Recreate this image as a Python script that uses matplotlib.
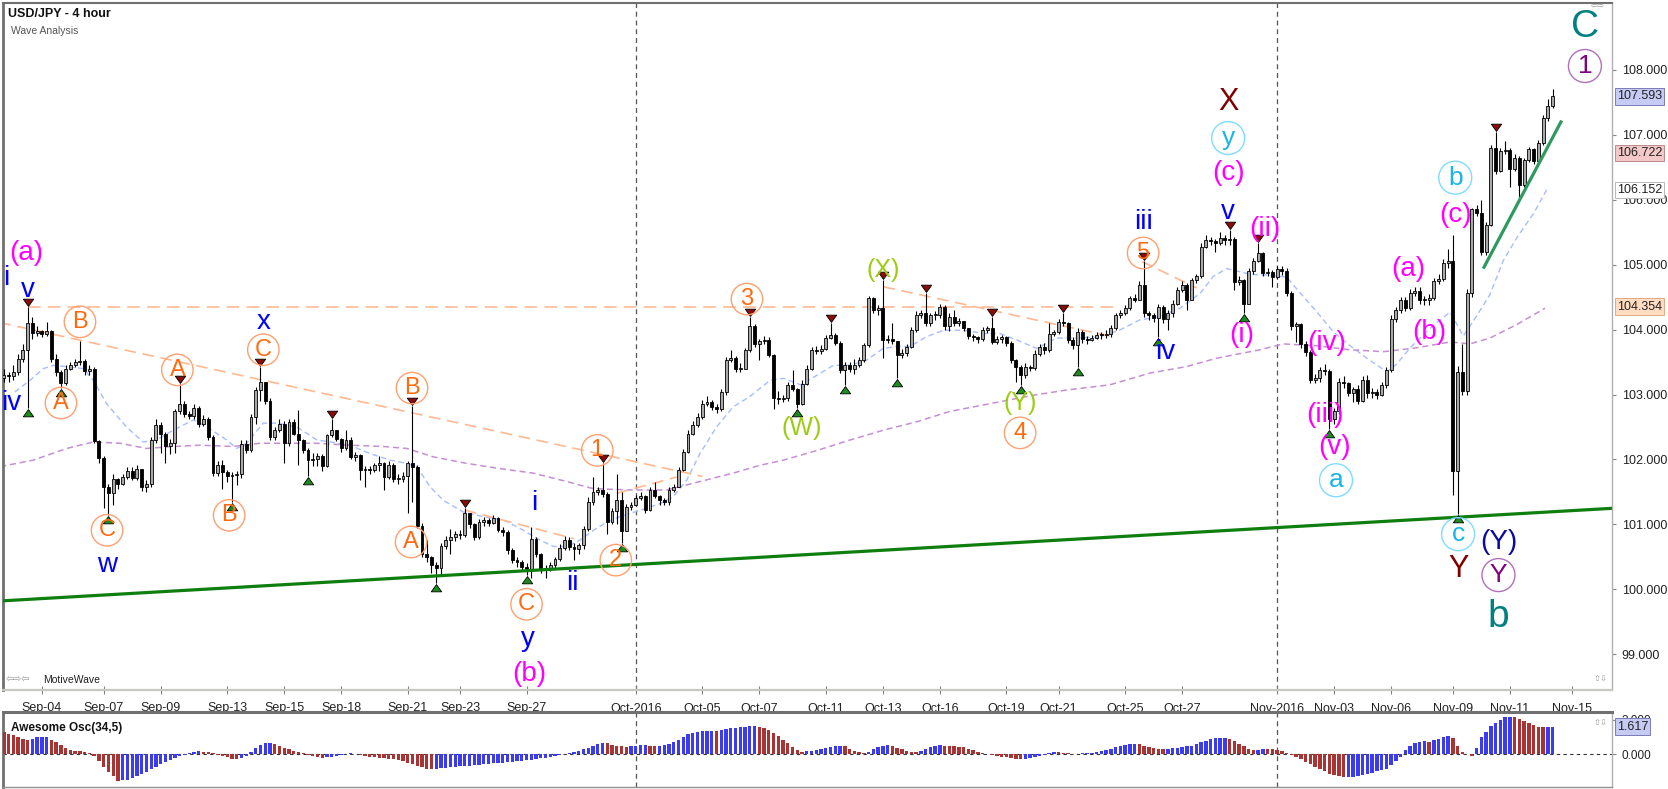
import numpy as np
import matplotlib
matplotlib.use('Agg')
import matplotlib.pyplot as plt
from matplotlib.path import Path
import matplotlib.transforms as mtransforms

plt.rcParams['font.family'] = ['Liberation Sans', 'DejaVu Sans']
NARROW = ['Liberation Sans Narrow', 'Liberation Sans', 'DejaVu Sans']

# ---------------- data ----------------
first_open = 103.25
closes = [
  103.30, 103.28, 103.35, 103.55, 103.69, 104.10, 103.95, 103.98, 103.93, 103.98,
  103.55, 103.35, 103.18, 103.40, 103.46, 103.50, 103.52, 103.36, 103.40, 102.28,
  102.02, 101.58, 101.48, 101.70, 101.62, 101.73, 101.82, 101.72, 101.85, 101.58,
  101.62, 102.30, 102.53, 102.40, 102.20, 102.25, 102.74, 102.86, 102.70, 102.67,
  102.80, 102.55, 102.63, 102.35, 101.79, 101.92, 101.80, 101.74, 101.76, 101.78,
  102.24, 102.15, 102.66, 103.07, 103.20, 102.90, 102.35, 102.45, 102.55, 102.25,
  102.58, 102.40, 102.30, 102.15, 101.99, 102.00, 102.06, 101.90, 102.37, 102.45,
  102.32, 102.18, 102.30, 102.04, 102.07, 101.84, 101.86, 101.84, 101.91, 101.94,
  101.73, 101.92, 101.70, 101.70, 101.74, 101.94, 101.88, 100.98, 100.55, 100.50,
  100.38, 100.33, 100.66, 100.76, 100.81, 100.86, 100.84, 101.17, 101.00, 100.81,
  101.04, 101.07, 101.02, 101.10, 100.91, 100.88, 100.60, 100.45, 100.42, 100.35,
  100.32, 100.78, 100.55, 100.32, 100.33, 100.38, 100.46, 100.64, 100.76, 100.65,
  100.62, 100.68, 100.93, 101.35, 101.50, 101.53, 101.47, 101.04, 101.20, 101.37,
  100.90, 101.27, 101.30, 101.40, 101.43, 101.22, 101.53, 101.43, 101.37, 101.34,
  101.53, 101.58, 101.84, 102.12, 102.40, 102.53, 102.66, 102.86, 102.89, 102.81,
  102.78, 103.04, 103.53, 103.57, 103.40, 103.40, 103.69, 104.05, 103.78, 103.82,
  103.84, 103.61, 102.95, 102.93, 102.95, 103.15, 103.08, 102.86, 103.17, 103.40,
  103.69, 103.67, 103.70, 103.87, 103.92, 103.80, 103.38, 103.45, 103.40, 103.45,
  103.53, 103.76, 104.48, 104.30, 104.33, 103.84, 103.86, 103.82, 103.61, 103.64,
  103.74, 103.99, 104.22, 104.25, 104.10, 104.22, 104.22, 104.35, 104.05, 104.20,
  104.10, 104.13, 104.03, 103.90, 103.88, 103.85, 103.99, 104.02, 103.81, 103.85,
  103.88, 103.80, 103.53, 103.43, 103.30, 103.43, 103.41, 103.63, 103.74, 103.68,
  103.94, 103.96, 104.12, 104.10, 103.84, 103.76, 103.97, 103.85, 103.84, 103.87,
  103.92, 103.91, 103.94, 104.02, 104.22, 104.25, 104.33, 104.48, 104.46, 104.69,
  104.25, 104.22, 104.18, 104.35, 104.17, 104.25, 104.40, 104.61, 104.69, 104.46,
  104.76, 104.82, 105.28, 105.38, 105.36, 105.34, 105.41, 105.38, 105.40, 104.74,
  104.76, 104.40, 104.90, 105.06, 105.18, 104.87, 104.88, 104.81, 104.93, 104.90,
  104.57, 104.05, 104.08, 103.78, 103.66, 103.23, 103.25, 103.38, 103.37, 102.62,
  102.74, 103.20, 103.18, 103.02, 103.08, 102.90, 103.23, 103.02, 103.04, 103.00,
  103.14, 103.38, 104.17, 104.30, 104.45, 104.33, 104.57, 104.60, 104.45, 104.45,
  104.48, 104.75, 104.78, 105.03, 105.06, 101.83, 103.35, 103.05, 104.57, 105.85,
  105.80, 105.20, 105.61, 106.79, 106.45, 106.75, 106.77, 106.48, 106.65, 106.23,
  106.61, 106.78, 106.60, 106.87, 107.26, 107.45, 107.593]
highs = [
  103.40, 103.35, 103.45, 103.62, 103.78, 104.35, 104.20, 104.05, 104.00, 104.12,
  104.00, 103.62, 103.38, 103.45, 103.50, 103.55, 103.82, 103.55, 103.45, 103.42,
  102.30, 102.05, 101.62, 101.78, 101.72, 101.78, 101.88, 101.88, 101.92, 101.85,
  101.68, 102.35, 102.62, 102.58, 102.42, 102.32, 102.78, 103.17, 102.90, 102.75,
  102.85, 102.82, 102.68, 102.66, 102.38, 101.97, 101.99, 101.84, 101.80, 101.82,
  102.30, 102.30, 102.70, 103.12, 103.42, 103.15, 102.95, 102.50, 102.62, 102.60,
  102.62, 102.62, 102.76, 102.32, 102.18, 102.10, 102.10, 102.08, 102.40, 102.62,
  102.45, 102.33, 102.45, 102.35, 102.12, 102.08, 101.90, 101.90, 101.95, 102.06,
  101.96, 101.98, 101.95, 101.78, 101.80, 101.98, 102.82, 101.92, 101.02, 100.76,
  100.52, 100.42, 100.72, 100.82, 100.93, 100.90, 100.92, 101.25, 101.18, 101.02,
  101.08, 101.12, 101.10, 101.14, 101.12, 100.96, 100.92, 100.63, 100.50, 100.45,
  100.40, 100.96, 100.80, 100.56, 100.38, 100.42, 100.50, 100.70, 100.82, 100.80,
  100.72, 100.72, 100.98, 101.42, 101.73, 101.58, 101.95, 101.50, 101.25, 101.78,
  101.50, 101.32, 101.35, 101.45, 101.50, 101.45, 101.58, 101.66, 101.45, 101.40,
  101.58, 101.62, 101.88, 102.16, 102.45, 102.60, 102.72, 102.92, 102.98, 102.92,
  102.85, 103.08, 103.58, 103.69, 103.60, 103.48, 103.72, 104.20, 104.08, 103.86,
  103.90, 103.89, 103.62, 103.05, 103.00, 103.20, 103.38, 103.10, 103.22, 103.45,
  103.74, 103.75, 103.76, 103.92, 104.10, 103.95, 103.82, 103.50, 103.50, 103.55,
  103.58, 103.80, 104.52, 104.50, 104.38, 104.76, 103.92, 104.10, 103.82, 103.70,
  103.78, 104.04, 104.28, 104.30, 104.56, 104.26, 104.28, 104.40, 104.38, 104.25,
  104.30, 104.18, 104.14, 104.02, 103.93, 103.90, 104.04, 104.06, 104.20, 103.90,
  103.92, 103.90, 103.82, 103.55, 103.46, 103.48, 103.46, 103.68, 103.78, 103.80,
  104.10, 104.00, 104.16, 104.25, 104.12, 103.88, 104.02, 104.00, 103.90, 103.92,
  103.96, 103.96, 104.00, 104.07, 104.26, 104.30, 104.38, 104.52, 104.55, 104.75,
  105.05, 104.28, 104.25, 104.40, 104.38, 104.30, 104.45, 104.66, 104.75, 104.72,
  104.80, 104.86, 105.33, 105.45, 105.42, 105.40, 105.50, 105.45, 105.53, 105.42,
  104.82, 104.78, 104.95, 105.10, 105.33, 105.20, 104.95, 104.92, 104.98, 104.98,
  104.95, 104.60, 104.12, 104.10, 103.82, 103.68, 103.32, 103.42, 103.47, 103.40,
  102.80, 103.25, 103.28, 103.20, 103.12, 103.15, 103.28, 103.30, 103.10, 103.08,
  103.20, 103.42, 104.22, 104.35, 104.50, 104.50, 104.62, 104.66, 104.65, 104.52,
  104.55, 104.80, 104.85, 105.08, 105.24, 105.45, 103.44, 103.78, 104.62, 105.88,
  105.92, 106.00, 105.66, 106.85, 107.05, 106.80, 106.90, 106.80, 106.70, 106.68,
  106.65, 106.82, 106.80, 106.92, 107.30, 107.55, 107.70]
lows = [
  103.20, 103.20, 103.22, 103.30, 103.50, 102.80, 103.85, 103.90, 103.88, 103.90,
  103.50, 103.28, 103.10, 103.15, 103.38, 103.42, 103.45, 103.30, 103.30, 102.25,
  101.95, 101.25, 101.15, 101.30, 101.55, 101.60, 101.70, 101.68, 101.68, 101.52,
  101.50, 101.58, 102.25, 102.10, 101.95, 102.08, 102.10, 102.70, 102.65, 102.62,
  102.62, 102.50, 102.52, 102.30, 101.74, 101.75, 101.55, 101.65, 101.35, 101.60,
  101.72, 102.10, 102.12, 102.55, 102.90, 102.85, 102.30, 102.30, 102.42, 101.95,
  102.20, 102.38, 101.92, 102.10, 101.74, 101.90, 101.90, 101.82, 101.88, 102.35,
  102.28, 102.12, 102.15, 102.00, 101.98, 101.68, 101.58, 101.78, 101.80, 101.82,
  101.53, 101.70, 101.65, 101.62, 101.65, 101.17, 101.35, 100.95, 100.50, 100.42,
  100.25, 100.10, 100.22, 100.62, 100.55, 100.74, 100.78, 100.80, 100.95, 100.76,
  100.78, 100.98, 100.98, 101.00, 100.88, 100.82, 100.55, 100.40, 100.35, 100.30,
  100.22, 100.17, 100.50, 100.25, 100.18, 100.28, 100.33, 100.44, 100.60, 100.60,
  100.45, 100.55, 100.62, 100.90, 101.30, 101.45, 101.42, 100.86, 101.00, 101.00,
  100.72, 100.90, 101.22, 101.28, 101.38, 101.18, 101.20, 101.40, 101.30, 101.30,
  101.30, 101.50, 101.58, 101.82, 102.10, 102.38, 102.50, 102.62, 102.82, 102.76,
  102.72, 102.74, 103.00, 103.50, 103.35, 103.35, 103.40, 103.66, 103.74, 103.53,
  103.78, 103.58, 102.78, 102.85, 102.88, 102.90, 103.05, 102.79, 102.84, 103.15,
  103.38, 103.62, 103.62, 103.68, 103.85, 103.76, 103.33, 103.15, 103.35, 103.32,
  103.42, 103.50, 103.74, 104.25, 104.22, 103.56, 103.80, 103.78, 103.25, 103.56,
  103.60, 103.72, 103.96, 104.18, 104.05, 104.05, 104.15, 104.18, 104.00, 103.98,
  104.05, 104.05, 103.98, 103.85, 103.82, 103.80, 103.82, 103.95, 103.78, 103.78,
  103.80, 103.75, 103.48, 103.20, 103.15, 103.25, 103.36, 103.38, 103.60, 103.62,
  103.65, 103.90, 103.94, 104.05, 103.80, 103.70, 103.43, 103.80, 103.78, 103.82,
  103.85, 103.86, 103.87, 103.88, 104.00, 104.18, 104.22, 104.30, 104.42, 104.45,
  104.20, 104.15, 104.12, 103.89, 104.10, 104.00, 104.20, 104.38, 104.58, 104.30,
  104.45, 104.72, 104.80, 105.25, 105.30, 105.20, 105.30, 105.30, 105.30, 104.61,
  104.68, 104.25, 104.70, 104.85, 105.04, 104.82, 104.82, 104.66, 104.78, 104.84,
  104.52, 104.00, 103.81, 103.72, 103.60, 103.18, 103.18, 103.20, 103.30, 102.47,
  102.55, 102.70, 103.10, 102.98, 102.88, 102.85, 102.88, 102.95, 102.95, 102.93,
  102.98, 103.10, 103.35, 104.12, 104.25, 104.28, 104.30, 104.52, 104.40, 104.38,
  104.38, 104.45, 104.70, 104.75, 104.95, 101.46, 101.16, 102.99, 103.00, 104.50,
  105.75, 105.15, 105.15, 105.60, 106.40, 106.42, 106.70, 106.20, 106.45, 106.05,
  106.20, 106.58, 106.55, 106.58, 106.85, 107.22, 107.42]

# Awesome Oscillator (34,5) histogram
ao_vals = [
  1.27, 1.20, 1.10, 1.00, 0.90, 0.84, 0.90, 0.98, 1.00, 1.02,
  0.84, 0.70, 0.51, 0.35, 0.22, 0.20, 0.16, 0.12, 0.04, -0.10,
  -0.40, -0.75, -1.05, -1.30, -1.60, -1.55, -1.50, -1.40, -1.30, -1.20,
  -1.05, -0.90, -0.75, -0.60, -0.45, -0.35, -0.25, -0.12, -0.03, 0.06,
  0.12, 0.16, 0.14, 0.10, 0.05, -0.05, -0.12, -0.20, -0.28, -0.32,
  -0.25, -0.12, 0.10, 0.35, 0.55, 0.65, 0.66, 0.60, 0.50, 0.38,
  0.28, 0.18, 0.10, 0.05, -0.05, -0.12, -0.20, -0.25, -0.20, -0.15,
  -0.10, -0.05, -0.02, 0.03, 0.02, -0.05, -0.10, -0.15, -0.20, -0.22,
  -0.25, -0.28, -0.30, -0.35, -0.42, -0.50, -0.58, -0.68, -0.78, -0.86,
  -0.90, -0.88, -0.85, -0.82, -0.78, -0.75, -0.72, -0.70, -0.68, -0.65,
  -0.62, -0.60, -0.57, -0.55, -0.52, -0.50, -0.48, -0.45, -0.43, -0.40,
  -0.37, -0.33, -0.30, -0.26, -0.22, -0.18, -0.12, -0.06, -0.01, 0.05,
  0.10, 0.18, 0.28, 0.38, 0.50, 0.60, 0.64, 0.62, 0.55, 0.50,
  0.45, 0.40, 0.45, 0.50, 0.52, 0.53, 0.50, 0.48, 0.50, 0.55,
  0.60, 0.72, 0.85, 1.00, 1.15, 1.25, 1.32, 1.35, 1.36, 1.38,
  1.36, 1.40, 1.47, 1.52, 1.55, 1.57, 1.60, 1.63, 1.64, 1.60,
  1.52, 1.40, 1.25, 1.05, 0.85, 0.65, 0.42, 0.25, 0.12, 0.15,
  0.18, 0.22, 0.28, 0.35, 0.42, 0.48, 0.50, 0.45, 0.32, 0.20,
  0.10, 0.05, 0.12, 0.28, 0.40, 0.48, 0.52, 0.50, 0.38, 0.28,
  0.20, 0.12, 0.10, 0.15, 0.28, 0.42, 0.50, 0.52, 0.50, 0.48,
  0.46, 0.44, 0.40, 0.32, 0.22, 0.12, 0.04, -0.02, -0.05, -0.10,
  -0.15, -0.20, -0.25, -0.30, -0.32, -0.30, -0.25, -0.18, -0.12, -0.05,
  0.05, 0.10, 0.09, 0.08, 0.06, 0.02, -0.01, 0.03, 0.05, 0.08,
  0.12, 0.18, 0.25, 0.32, 0.40, 0.47, 0.53, 0.58, 0.60, 0.57,
  0.50, 0.42, 0.38, 0.32, 0.28, 0.30, 0.33, 0.36, 0.40, 0.45,
  0.50, 0.58, 0.68, 0.78, 0.86, 0.92, 0.95, 0.96, 0.90, 0.78,
  0.60, 0.45, 0.30, 0.22, 0.26, 0.32, 0.30, 0.28, 0.22, 0.15,
  0.08, -0.05, -0.15, -0.30, -0.45, -0.60, -0.75, -0.90, -1.02, -1.15,
  -1.25, -1.32, -1.38, -1.36, -1.33, -1.30, -1.25, -1.18, -1.10, -1.02,
  -0.94, -0.86, -0.65, -0.40, -0.18, 0.24, 0.47, 0.67, 0.72, 0.74,
  0.73, 0.82, 0.86, 0.98, 1.08, 0.92, 0.47, 0.13, -0.02, -0.10,
  0.33, 0.98, 1.27, 1.65, 1.84, 2.00, 2.16, 2.20, 2.16, 2.08,
  1.96, 1.80, 1.71, 1.61, 1.58, 1.60, 1.617]

# moving averages (bar, value)
ma_fast_bars = [2.3, 5.5, 8.3, 10.4, 13.2, 16.7, 18.8, 21.6, 25.8, 29.3, 32.1, 35.6, 39.9, 42.7, 46.9, 49, 51.1,
                54.6, 57.4, 61.7, 65.9, 68.7, 72.8, 77.1, 81.3, 84.8, 86.9, 89.7, 92.5, 96.7, 100.9, 105.1,
                108.6, 112.8, 115.7, 118.5, 121.3, 124.1, 127, 129.7, 134, 138.1, 140.9, 143.7, 146.5, 150,
                153.5, 157, 161.3, 164.1, 167.7, 171.2, 174.6, 178.1, 181.6, 185.1, 187.9, 190.7, 194.2,
                197.8, 202, 206.2, 209.7, 213.2, 217.4, 221.6, 225.8, 230.7, 234.8, 239.1, 243.3, 247.6,
                251.8, 254.6, 257.4, 260.2, 262.5, 265.8, 270, 272.8, 276.4, 279.9, 283.4, 286.9, 291.1,
                293.2, 296, 300.2, 304.4, 307.2, 310, 312.8, 315.6, 318.5, 322, 324.8]
ma_fast_vals = [103.04, 103.22, 103.40, 103.45, 103.43, 103.40, 103.22, 102.86, 102.50, 102.27, 102.30, 102.45,
                102.61, 102.50, 102.30, 102.17, 102.25, 102.56, 102.56, 102.50, 102.30, 102.27, 102.22, 102.09,
                101.99, 101.94, 101.89, 101.58, 101.37, 101.19, 101.12, 101.07, 100.94, 100.76, 100.66, 100.66,
                100.76, 100.91, 101.04, 101.12, 101.22, 101.32, 101.43, 101.68, 102.09, 102.50, 102.81, 102.97,
                103.22, 103.25, 103.15, 103.30, 103.45, 103.45, 103.53, 103.71, 103.74, 103.74, 103.89, 103.99,
                103.99, 103.94, 103.94, 103.84, 103.71, 103.87, 103.87, 103.89, 103.99, 104.15, 104.20, 104.33,
                104.56, 104.82, 104.94, 104.89, 104.85, 104.84, 104.81, 104.57, 104.27, 103.96, 103.75, 103.56,
                103.35, 103.47, 103.72, 104.02, 104.27, 103.90, 104.21, 104.54, 105.06, 105.42, 105.79, 106.16]
ma_slow_bars = [-0.8, 6.2, 13.2, 18.8, 24.4, 30, 35.6, 41.3, 48.3, 53.9, 58.8, 65.8, 72.8, 79.9, 84.8, 90.4,
                97.4, 104.4, 111.4, 118.5, 124.1, 132.5, 139.5, 146.5, 153.5, 159.1, 164.1, 171.2, 178.1,
                185.1, 192.1, 199.1, 206.2, 211.8, 216.7, 223.7, 232.8, 241.2, 248.9, 255.3, 264.4, 269.3,
                276.4, 283.4, 290.4, 297.4, 304.4, 308.6, 312.8, 318.5, 324.4]
ma_slow_vals = [101.89, 101.99, 102.17, 102.27, 102.25, 102.17, 102.20, 102.22, 102.20, 102.25, 102.25, 102.25,
                102.22, 102.20, 102.17, 102.04, 101.94, 101.86, 101.79, 101.66, 101.55, 101.53, 101.53, 101.66,
                101.79, 101.91, 101.99, 102.14, 102.30, 102.45, 102.58, 102.74, 102.84, 102.92, 102.99, 103.07,
                103.15, 103.33, 103.43, 103.56, 103.69, 103.78, 103.75, 103.69, 103.66, 103.72, 103.81, 103.78,
                103.87, 104.08, 104.33]

# date axis
tick_bars = [8, 21, 33, 47, 59, 71, 85, 96, 110, 133, 147, 159, 173, 185, 197, 211, 222, 236, 248, 268,
             280, 292, 305, 317, 330]
tick_labels = ['Sep-04', 'Sep-07', 'Sep-09', 'Sep-13', 'Sep-15', 'Sep-18', 'Sep-21', 'Sep-23', 'Sep-27',
               'Oct-2016', 'Oct-05', 'Oct-07', 'Oct-11', 'Oct-13', 'Oct-16', 'Oct-19', 'Oct-21', 'Oct-25',
               'Oct-27', 'Nov-2016', 'Nov-03', 'Nov-06', 'Nov-09', 'Nov-11', 'Nov-15']
month_bars = [133, 268]

# pivots marked with triangles
swing_high_bars = [5, 37, 54, 69, 86, 97, 126, 157, 174, 185, 194, 208, 223, 240, 258, 264, 314]
swing_low_bars = [5, 12, 22, 48, 64, 91, 110, 130, 167, 177, 188, 214, 226, 243, 261, 279, 306]

# drawn lines (bar, price)
support_x, support_y = [-1, 339], [99.82, 101.25]
short_trend_x, short_trend_y = [311.4, 327.9], [104.94, 107.22]
orange_hline_x, orange_hline_y = [5, 235], [104.35, 104.35]
orange_lines = [([-1, 147], [104.11, 101.74]),
                ([97, 120], [101.22, 100.78]),
                ([129, 141.6], [101.48, 101.73]),
                ([185.1, 233.5], [104.66, 103.89]),
                ([239.5, 251.1], [105.05, 104.64])]

# wave labels (text, bar, price)
lab_magenta = [('(a)', 4.8, 105.18), ('(b)', 110.5, 98.69), ('(c)', 257.7, 106.41), ('(i)', 260.6, 103.92),
               ('(ii)', 265.5, 105.55), ('(iv)', 278.5, 103.79), ('(iii)', 278.1, 102.68), ('(v)', 280.2, 102.19),
               ('(a)', 295.6, 104.93), ('(b)', 300.0, 103.96), ('(c)', 305.5, 105.77)]
lab_blue = [('i', 0.4, 104.80), ('v', 5.1, 104.61), ('iv', 1.6, 102.87), ('w', 21.8, 100.37), ('x', 54.6, 104.12),
            ('i', 111.6, 101.33), ('ii', 119.6, 100.10), ('y', 110.3, 99.23), ('iii', 239.8, 105.66),
            ('iv', 244.4, 103.65), ('v', 257.7, 105.81)]
lab_orange = [('B', 16, 104.12), ('A', 12, 102.87), ('C', 21.7, 100.91), ('A', 36.5, 103.38), ('B', 47.4, 101.14),
              ('C', 54.6, 103.69), ('B', 85.9, 103.10), ('A', 85.7, 100.73), ('C', 110, 99.77), ('1', 124.9, 102.14),
              ('2', 128.8, 100.45), ('3', 156.4, 104.47), ('4', 213.9, 102.41), ('5', 239.8, 105.18)]
lab_green = [('(W)', 168, 102.48), ('(X)', 185, 104.92), ('(Y)', 213.9, 102.87)]
lab_cyan = [('y', 257.7, 106.95), ('a', 280.4, 101.68), ('b', 305.5, 106.34), ('c', 306.1, 100.85)]
lab_darkred = [('X', 257.7, 107.51), ('Y', 306.1, 100.31)]
lab_navy = [('(Y)', 314.7, 100.73)]
lab_purple = [('Y', 314.6, 100.22), ('1', 332.8, 108.06)]
lab_teal = [('b', 314.6, 99.57), ('C', 332.8, 108.66)]

price_tags = [(107.593, '#c6cbf3', '#7a7ab8'), (106.722, '#f3c8c8', '#c08a8a'),
              (106.152, '#ffffff', '#b8b8b8'), (104.354, '#ffdcc2', '#e0aa86')]
ao_tag = (1.617, '#c6cbf3', '#7a7ab8')

# ---------------- figure ----------------
W, H = 1668, 789
fig = plt.figure(figsize=(W / 100, H / 100), dpi=100)


def fx(px):
    return px / W


def fy(py):
    return 1 - py / H


ax = fig.add_axes([fx(3), fy(690), fx(1612) - fx(3), fy(3) - fy(690)])
ax2 = fig.add_axes([fx(3), fy(787), fx(1612) - fx(3), fy(712) - fy(787)], sharex=ax)

n = min(len(closes), len(highs), len(lows))
x = np.arange(n)
c = np.array(closes[:n])
o = np.array([first_open] + closes[:n - 1])
h = np.maximum(np.array(highs[:n]), np.maximum(o, c))
l = np.minimum(np.array(lows[:n]), np.minimum(o, c))
up = c >= o
body_lo = np.minimum(o, c)
body_h = np.maximum(np.abs(c - o), 0.015)

ax.vlines(x, l, h, color='black', lw=0.8, zorder=3)
ax.bar(x[up], body_h[up], bottom=body_lo[up], width=0.62, color='#a8a8a8', edgecolor='black', lw=0.6, zorder=4)
ax.bar(x[~up], body_h[~up], bottom=body_lo[~up], width=0.62, color='black', edgecolor='black', lw=0.6, zorder=4)

ax.plot(ma_fast_bars, ma_fast_vals, color='#a7bdff', lw=1.0, dashes=(4, 2.5), zorder=2)
ax.plot(ma_slow_bars, ma_slow_vals, color='#c68fd4', lw=1.1, dashes=(4, 2.5), zorder=2)

ax.plot(orange_hline_x, orange_hline_y, color='#ffc09c', lw=1.3, dashes=(7, 4), zorder=2)
for lx, ly in orange_lines:
    ax.plot(lx, ly, color='#ffb890', lw=1.2, dashes=(7, 4), zorder=2)
ax.plot(support_x, support_y, color='#0e7f0e', lw=2.3, zorder=5, solid_capstyle='butt')
ax.plot(short_trend_x, short_trend_y, color='#2f9a5f', lw=2.3, zorder=5, solid_capstyle='butt')

for b in month_bars:
    ax.axvline(b, color='#555555', lw=0.9, dashes=(4, 3), zorder=1)
    ax2.axvline(b, color='#555555', lw=0.9, dashes=(4, 3), zorder=1)

down_tri = Path([(-1, 1.6), (1, 1.6), (0, 0.2), (-1, 1.6)])
up_tri = Path([(-1, -1.6), (1, -1.6), (0, -0.2), (-1, -1.6)])
ax.plot(swing_high_bars, h[swing_high_bars], ls='none', marker=down_tri, ms=12, mfc='#8b0a0a', mec='black',
        mew=0.6, zorder=6)
ax.plot(swing_low_bars, l[swing_low_bars], ls='none', marker=up_tri, ms=12, mfc='#1c8c1c', mec='black',
        mew=0.6, zorder=6)


def put_labels(items, color, size, ring=None, pad=0.06):
    for txt, xb, yp in items:
        kw = {}
        if ring:
            kw['bbox'] = dict(boxstyle='circle,pad=%s' % pad, fc='none', ec=ring, lw=1.0)
        ax.text(xb, yp, txt, color=color, fontsize=size, ha='center', va='center', zorder=7, **kw)


put_labels(lab_magenta, '#ff00ff', 20)
put_labels(lab_blue, '#0000ff', 20)
put_labels(lab_orange, '#ff6a10', 17, ring='#ffa070', pad=0.2)
put_labels(lab_green, '#9ccc10', 18)
put_labels(lab_cyan, '#1ab4e8', 19, ring='#7fdcff', pad=0.17)
put_labels(lab_darkred, '#800000', 22)
put_labels(lab_navy, '#0a0aa0', 20)
put_labels(lab_purple, '#800080', 19, ring='#b070b8', pad=0.17)
put_labels(lab_teal, '#008080', 28)

ax.set_xlim(-0.2, 338.5)
ax.set_ylim(98.45, 109.03)
ax.yaxis.tick_right()
ax.set_yticks(range(99, 109))
ax.set_yticklabels(['%.3f' % v for v in range(99, 109)])
ax.tick_params(axis='y', direction='out', length=3, color='#888888', labelsize=9, labelcolor='#222222', pad=4)
ax.set_xticks(tick_bars)
ax.set_xticklabels(tick_labels)
ax.tick_params(axis='x', direction='inout', length=6, color='#808080', labelsize=9, labelcolor='#222222', pad=6)
for t in ax.get_xticklabels() + ax.get_yticklabels():
    t.set_family(NARROW)
for side, col, lw in [('left', '#707070', 2.0), ('top', '#707070', 1.5), ('right', '#b0b0b0', 1.0),
                      ('bottom', '#c8c8c0', 1.6)]:
    ax.spines[side].set_color(col)
    ax.spines[side].set_linewidth(lw)

tr = mtransforms.blended_transform_factory(ax.transAxes, ax.transData)
for val, fc, ec in price_tags:
    ax.text(1.003, val, '%.3f' % val, transform=tr, fontsize=9, family=NARROW, color='#222222',
            ha='left', va='center', zorder=8, clip_on=False,
            bbox=dict(boxstyle='square,pad=0.18', fc=fc, ec=ec, lw=0.7))

# oscillator
ao = np.array(ao_vals[:n])
rising = np.concatenate([[False], ao[1:] >= ao[:-1]])
ax2.bar(x[:len(ao)], ao, width=0.72, color=np.where(rising, '#3b3bf2', '#a83434'), lw=0, zorder=3)
ax2.axhline(0, color='#333333', lw=0.8, dashes=(3, 3), zorder=2)
ax2.set_ylim(-1.94, 2.47)
ax2.yaxis.tick_right()
ax2.set_yticks([0, 2])
ax2.set_yticklabels(['0.000', '2.000'])
ax2.tick_params(axis='y', direction='out', length=3, color='#888888', labelsize=8.5, labelcolor='#222222', pad=4)
ax2.tick_params(axis='x', length=0, labelbottom=False)
for t in ax2.get_yticklabels():
    t.set_family(NARROW)
for side, col, lw in [('left', '#707070', 2.0), ('top', '#707070', 2.2), ('right', '#b0b0b0', 1.0),
                      ('bottom', '#909090', 1.0)]:
    ax2.spines[side].set_color(col)
    ax2.spines[side].set_linewidth(lw)
tr2 = mtransforms.blended_transform_factory(ax2.transAxes, ax2.transData)
ax2.text(1.003, ao_tag[0], '%.3f' % ao_tag[0], transform=tr2, fontsize=9, family=NARROW, color='#222222',
         ha='left', va='center', zorder=8, clip_on=False,
         bbox=dict(boxstyle='square,pad=0.18', fc=ao_tag[1], ec=ao_tag[2], lw=0.7))
ax2.text(0.005, 0.78, 'Awesome Osc(34,5)', transform=ax2.transAxes, fontsize=8.5, fontweight='bold',
         color='#111111', ha='left', va='center')

# header and small texts
fig.text(fx(8), fy(14), 'USD/JPY - 4 hour', fontsize=9, fontweight='bold', color='#111111', va='center')
fig.text(fx(11), fy(31), 'Wave Analysis', fontsize=7.5, color='#555555', va='center')
fig.text(fx(6), fy(680), '\u21e6\u21e8\u21e6', fontsize=7, color='#999999', va='center', family='DejaVu Sans')
fig.text(fx(43), fy(680), 'MotiveWave', fontsize=7.5, color='#222222', va='center')
fig.text(fx(1605), fy(6), '\u21e6\u21e8', fontsize=6, color='#999999', va='center', ha='right',
         family='DejaVu Sans')
fig.text(fx(1608), fy(678), '\u21e7\u21e9', fontsize=6, color='#999999', va='center', ha='right',
         family='DejaVu Sans')
fig.text(fx(1608), fy(722), '\u21e7\u21e9', fontsize=6, color='#999999', va='center', ha='right',
         family='DejaVu Sans')

fig.savefig('out.png', dpi=100, facecolor='white')
